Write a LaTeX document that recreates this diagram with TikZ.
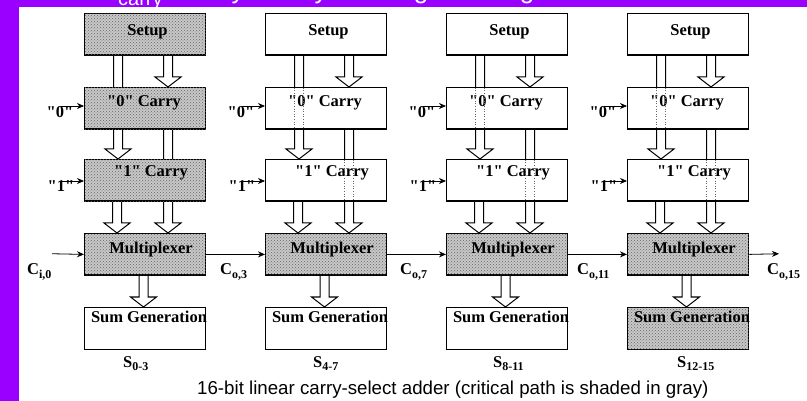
\documentclass[tikz,border=0pt]{standalone}
\usepackage{fontspec}
\setmainfont{Liberation Serif}
\newfontfamily\capfont{Liberation Sans}
\usetikzlibrary{arrows.meta,calc,backgrounds,patterns}
\definecolor{slidepurple}{RGB}{153,0,255}
\definecolor{shadegray}{RGB}{200,200,200}
\newcommand{\lbl}{\fontsize{16.5}{18}\selectfont\bfseries}
\newcommand{\qq}{\textquotedbl}
\newcommand{\subx}[1]{\raisebox{-0.5ex}{\fontsize{12}{12}\selectfont\bfseries #1}}
\newcommand{\hollowarrow}[2]{%
  \draw[hol] let \p1=#1, \p2=#2 in
    (\x1-4.5pt,\y1) -- (\x1-4.5pt,\y2+10pt) -- (\x1-13pt,\y2+10pt) -- (\x1,\y2)
    -- (\x1+13pt,\y2+10pt) -- (\x1+4.5pt,\y2+10pt) -- (\x1+4.5pt,\y1);}
\begin{document}
\begin{tikzpicture}[x=1pt,y=-1pt,
  blk/.style={draw=black, line width=1.3pt, fill=white, minimum width=121pt,
    minimum height=41.5pt, inner sep=0pt, anchor=north west},
  crit/.style={fill=shadegray, postaction={pattern=crosshatch dots, pattern color=black!60}},
  plain/.style={},
  txt/.style={anchor=base, font=\lbl, inner sep=0pt},
  hol/.style={draw=black, line width=1pt, fill=white},
  sig/.style={-{Stealth[length=7pt,width=6pt]}, line width=0.8pt},
  dotl/.style={black!60, dotted, line width=0.6pt}]
\useasboundingbox (0,0) rectangle (807,401);
\begin{scope}[on background layer]
  \fill[white] (0,0) rectangle (807,401);
\end{scope}
\fill[slidepurple] (0,0) rectangle (807,7);
\fill[slidepurple] (0,0) rectangle (19,401);
\begin{scope}
  \clip (19,0) rectangle (807,7);
  \node[anchor=base west, inner sep=0pt, text=white, font=\capfont\fontsize{20}{20}\selectfont] at (118,6) {carry};
  \foreach \xx/\ch in {238/y,321/y,421/g,527/g}
    \node[anchor=base, inner sep=0pt, text=white, font=\capfont\fontsize{26}{26}\selectfont] at (\xx,-1) {\ch};
\end{scope}

\foreach \L/\i/\sa/\sb in {84/1/crit/plain, 265/2/plain/plain, 446/3/plain/plain, 627/4/plain/crit}{
  \node[blk,\sa] (s\i) at (\L,13) {};
  \node[blk,\sa] (z\i) at (\L,87) {};
  \node[blk,\sa] (o\i) at (\L,159) {};
  \node[blk,crit] (m\i) at (\L,233) {};
  \node[blk,\sb] (g\i) at (\L,307) {};
  \node[txt] at (\L+63.5,36) {Setup};
  \node[txt] at (\L+60,107) {\qq0\qq\ Carry};
  \node[txt] at (\L+67,177) {\qq1\qq\ Carry};
  \node[txt] at (\L+67,254) {Multiplexer};
  \node[txt] at (\L+65,323) {Sum Generation};
  \node[txt] (q0\i) at (\L-24,118) {\qq0\qq};
  \node[txt] (q1\i) at (\L-23,192) {\qq1\qq};
  \coordinate (a0\i) at (\L-23,106);
  \coordinate (a1\i) at (\L-23,181);
  \draw[sig] (a0\i) -- (a0\i -| z\i.west);
  \draw[sig] (a1\i) -- (a1\i -| o\i.west);
  \begin{scope}[on background layer]
    \hollowarrow{($(s\i.south west)+(34,0)$)}{($(o\i.north west)+(34,0)$)}
    \hollowarrow{($(s\i.south west)+(84,0)$)}{($(z\i.north west)+(84,0)$)}
    \hollowarrow{($(z\i.south west)+(84,0)$)}{($(m\i.north west)+(84,0)$)}
    \hollowarrow{($(o\i.south west)+(33,0)$)}{($(m\i.north west)+(33,0)$)}
    \hollowarrow{($(m\i.south west)+(59.5,0)$)}{($(g\i.north west)+(59.5,0)$)}
  \end{scope}
}
% pass-through lines seen inside the white boxes
\foreach \i in {2,3,4}{
  \draw[dotl] ($(z\i.north west)+(29.5,0.8)$) -- ($(z\i.south west)+(29.5,-0.8)$);
  \draw[dotl] ($(z\i.north west)+(38.5,0.8)$) -- ($(z\i.south west)+(38.5,-0.8)$);
  \draw[dotl] ($(o\i.north west)+(79.5,0.8)$) -- ($(o\i.south west)+(79.5,-0.8)$);
  \draw[dotl] ($(o\i.north west)+(88.5,0.8)$) -- ($(o\i.south west)+(88.5,-0.8)$);
}

% carry chain
\coordinate (cin) at (52,253.75);
\coordinate (cout) at (779,253.75);
\draw[sig] (cin) -- (m1.west);
\draw[sig] (m1.east) -- (m2.west);
\draw[sig] (m2.east) -- (m3.west);
\draw[sig] (m3.east) -- (m4.west);
\draw[sig] (m4.east) -- (cout);
\node[txt, anchor=base west] (c0) at (27,275) {C\subx{i,0}};
\node[txt, anchor=base west] (c3) at (220,275) {C\subx{o,3}};
\node[txt, anchor=base west] (c7) at (400,275) {C\subx{o,7}};
\node[txt, anchor=base west] (c11) at (577,275) {C\subx{o,11}};
\node[txt, anchor=base west] (c15) at (767,275) {C\subx{o,15}};

% sum outputs
\node[txt, anchor=base west] (r1) at (123,367) {S\subx{0-3}};
\node[txt, anchor=base west] (r2) at (313,367) {S\subx{4-7}};
\node[txt, anchor=base west] (r3) at (493,367) {S\subx{8-11}};
\node[txt, anchor=base west] (r4) at (677,367) {S\subx{12-15}};

\node[anchor=base west, inner sep=0pt, font=\capfont\fontsize{18.7}{19}\selectfont] (cap) at (197,394)
  {16-bit linear carry-select adder (critical path is shaded in gray)};
\end{tikzpicture}
\end{document}
